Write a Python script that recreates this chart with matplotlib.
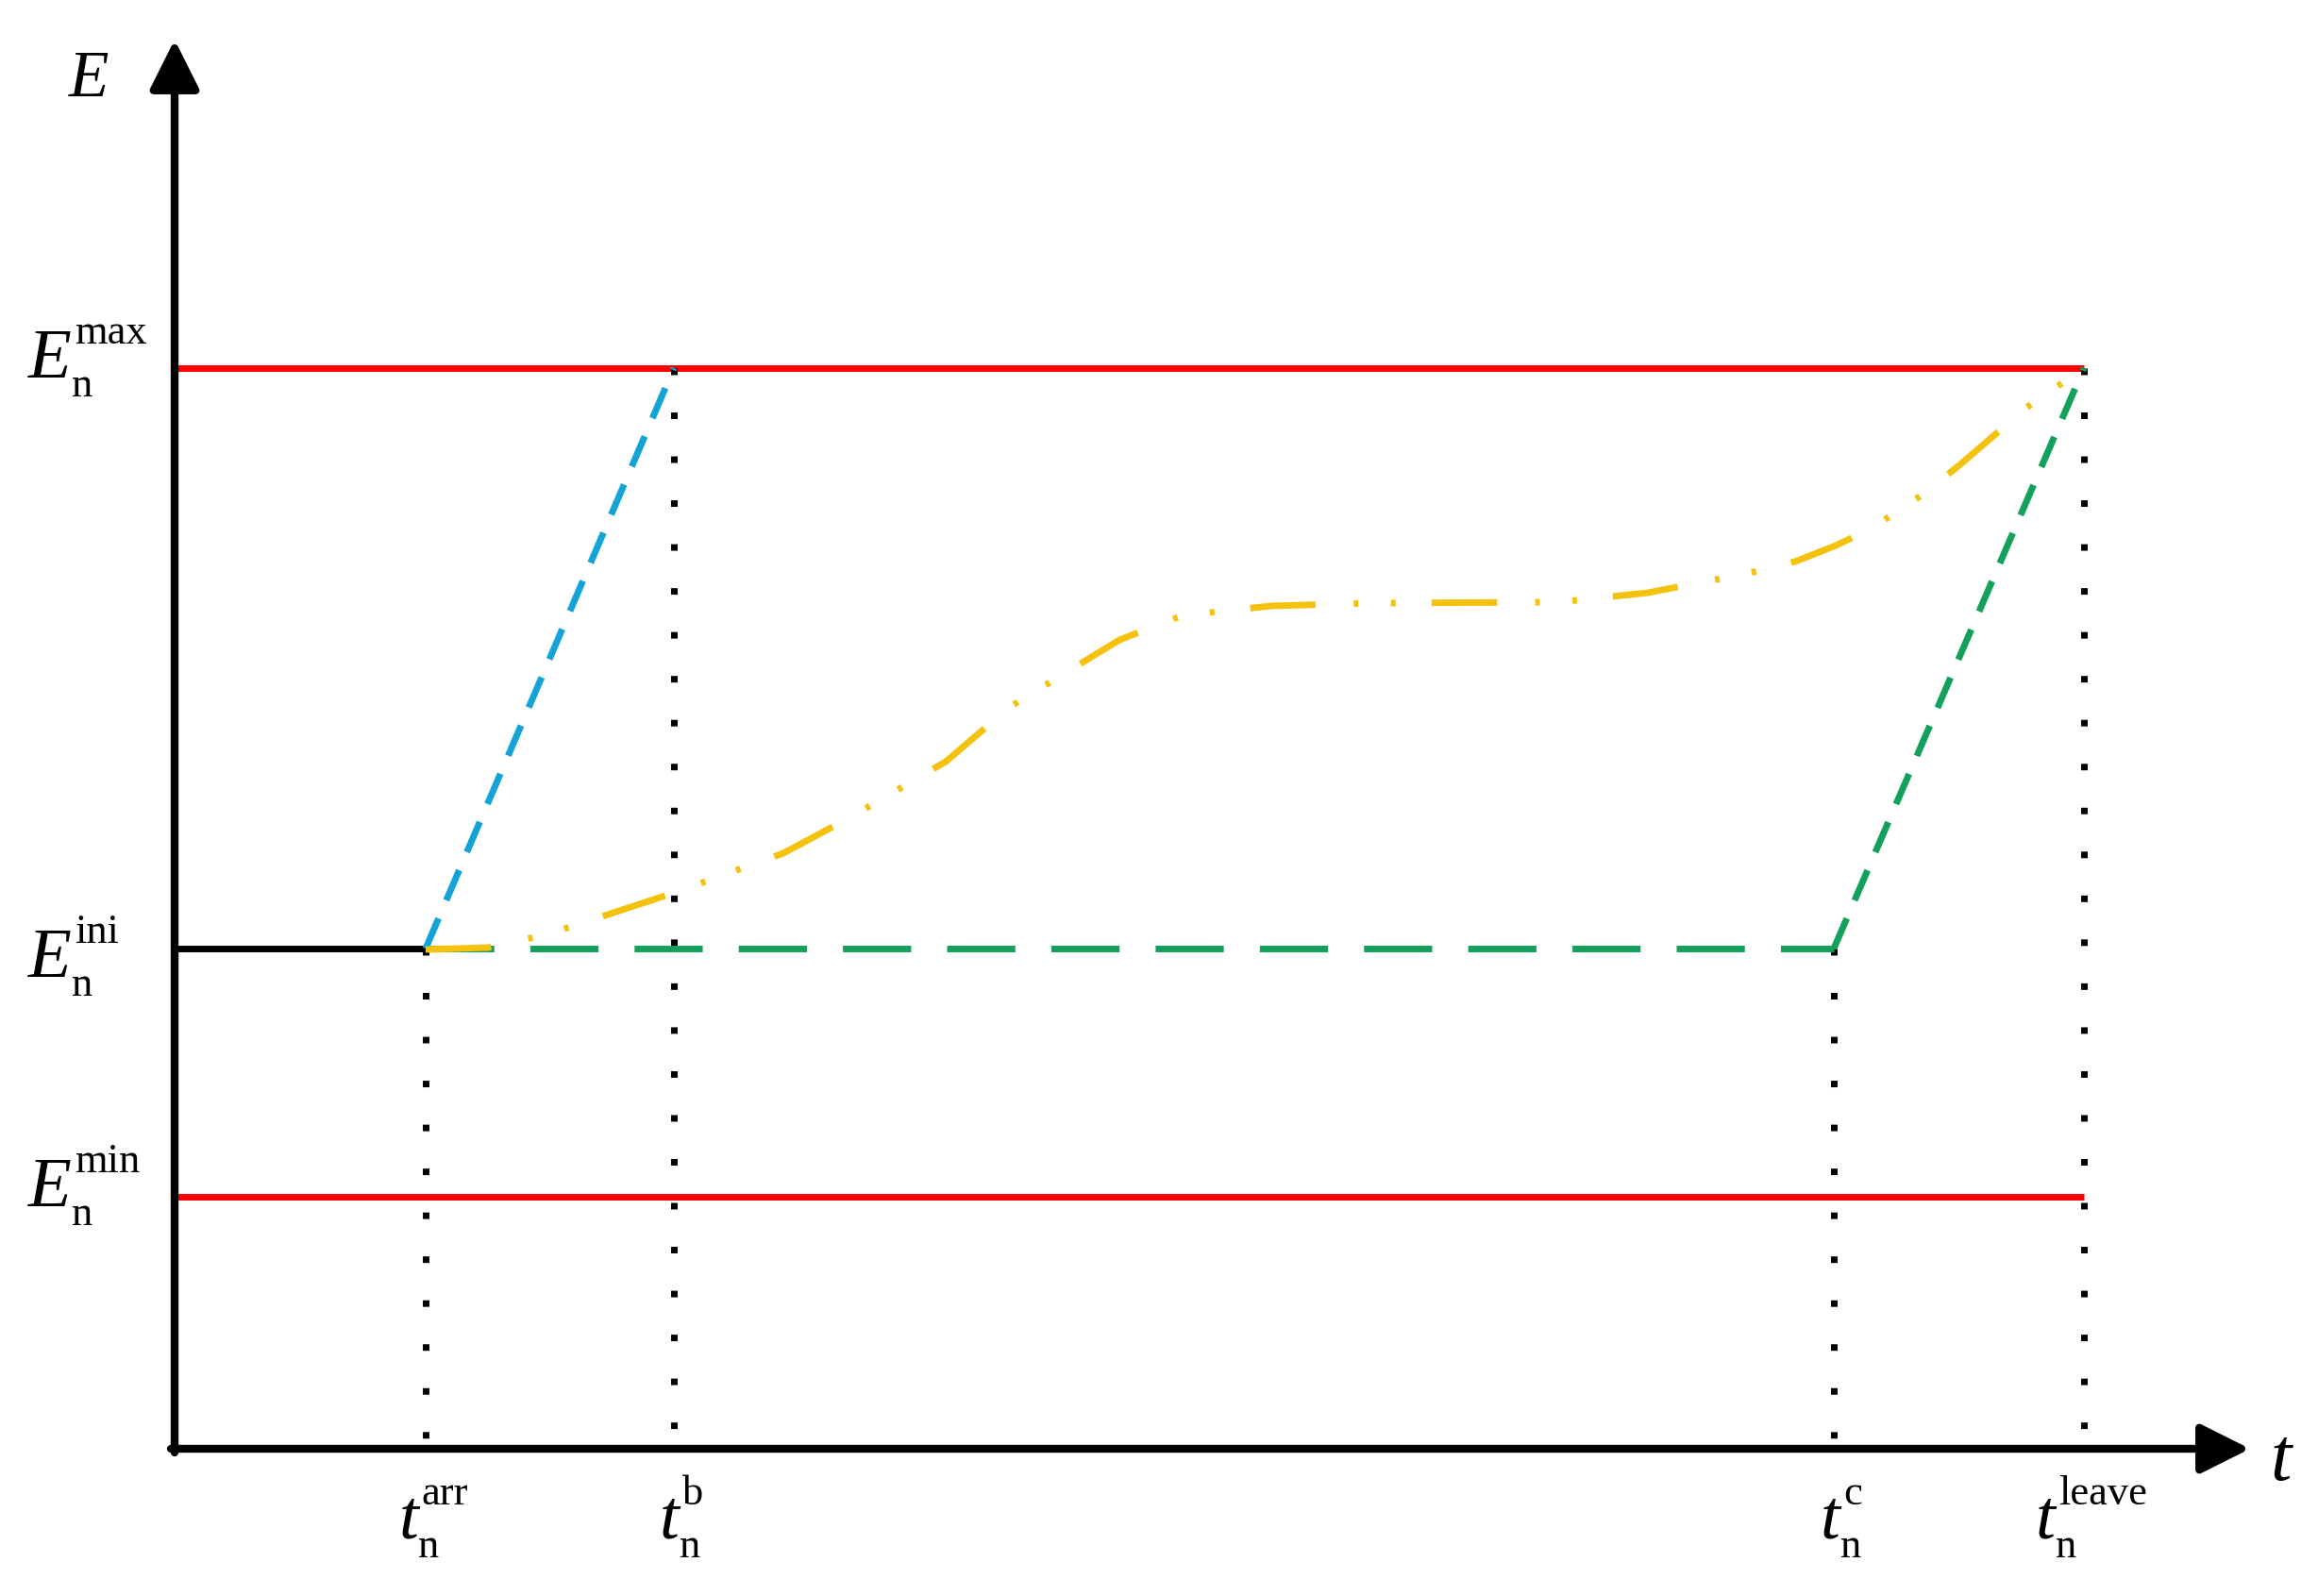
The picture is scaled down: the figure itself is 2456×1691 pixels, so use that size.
import matplotlib.pyplot as plt

# axis units are pixels of the original figure, origin at the axes corner
t_names = ['arr', 'b', 'c', 'leave']
t_vals = [266, 529, 1758, 2023]
E_names = ['max', 'ini', 'min']
E_vals = [1145, 530, 267]

# yellow charging curve
yellow_t = [266, 332, 395, 465, 532, 645, 716, 817, 885, 1001, 1068, 1162, 1272, 1467,
            1561, 1665, 1717, 1760, 1798, 1855, 1892, 1927, 1962, 2023]
yellow_E = [529, 531, 545, 568, 590, 631, 669, 728, 786, 857, 883, 893, 896, 897,
            907, 927, 940, 957, 975, 1013, 1043, 1073, 1103, 1145]

t_arr, t_b, t_c, t_leave = t_vals
E_max, E_ini, E_min = E_vals

red = '#FF0000'
blue = '#14A3D6'
green = '#12A05A'
yellow = '#F4C20D'
serif = 'Liberation Serif'

fig = plt.figure(figsize=(24.56, 16.91), dpi=100)
ax = fig.add_axes([0, 0, 1, 1])
ax.set_xlim(-185, 2271)
ax.set_ylim(-156, 1535)
ax.axis('off')

# limits
ax.plot([0, t_leave], [E_max, E_max], color=red, lw=5, solid_capstyle='butt')
ax.plot([0, t_leave], [E_min, E_min], color=red, lw=5, solid_capstyle='butt')
ax.plot([0, t_arr], [E_ini, E_ini], color='k', lw=5, solid_capstyle='butt')

# vertical dotted guides
for t, top in [(t_arr, E_ini), (t_b, E_max), (t_c, E_ini), (t_leave, E_max)]:
    ax.plot([t, t], [top, 0], color='k', lw=5, linestyle=(0, (1, 5.7)),
            dash_capstyle='butt')

# strategies
ax.plot([t_arr, t_c], [E_ini, E_ini], color=green, lw=5,
        linestyle=(0, (10.4, 5.5)), dash_capstyle='butt')
ax.plot([t_c, t_leave], [E_ini, E_max], color=green, lw=5,
        linestyle=(0, (5, 3)), dash_capstyle='butt')
ax.plot([t_arr, t_b], [E_ini, E_max], color=blue, lw=5,
        linestyle=(0, (5, 3)), dash_capstyle='butt')
ax.plot(yellow_t, yellow_E, color=yellow, lw=5,
        linestyle=(0, (10, 5.8, 0.7, 5, 0.7, 5.5)), dash_capstyle='butt')

# axes with arrows
arrow = dict(arrowstyle='-|>,head_length=1,head_width=0.5', lw=6, color='k',
             mutation_scale=32, shrinkA=0, shrinkB=0)
ax.annotate('', xy=(0, 1493), xytext=(0, -4), arrowprops=arrow)
ax.annotate('', xy=(2199, 0), xytext=(-4, 0), arrowprops=arrow)

ax.text(-112, 1433, 'E', fontsize=50, fontstyle='italic', family=serif, va='baseline')
ax.text(2220, -33, 't', fontsize=58, fontstyle='italic', family=serif, va='baseline')

renderer = fig.canvas.get_renderer()


def width(txt):
    return txt.get_window_extent(renderer=renderer).width


def sym(x, y, main, sup, center=False):
    m = ax.text(0, y, main, fontsize=54, fontstyle='italic', family=serif, va='baseline')
    p = ax.text(0, y + 36, sup, fontsize=32, family=serif, va='baseline')
    s = ax.text(0, y - 20, 'n', fontsize=32, family=serif, va='baseline')
    wm = width(m)
    total = max(wm + 3 + width(p), wm + width(s))
    x0 = x - total / 2 + 8 if center else x
    m.set_x(x0)
    p.set_x(x0 + wm + 3)
    s.set_x(x0 + wm)


for name, val in zip(E_names, E_vals):
    off = 30 if name == 'ini' else 10
    sym(-155, val - off, 'E', name)

for name, val in zip(t_names, t_vals):
    sym(val, -95, 't', name, center=True)

plt.savefig('out.png', dpi=100)
